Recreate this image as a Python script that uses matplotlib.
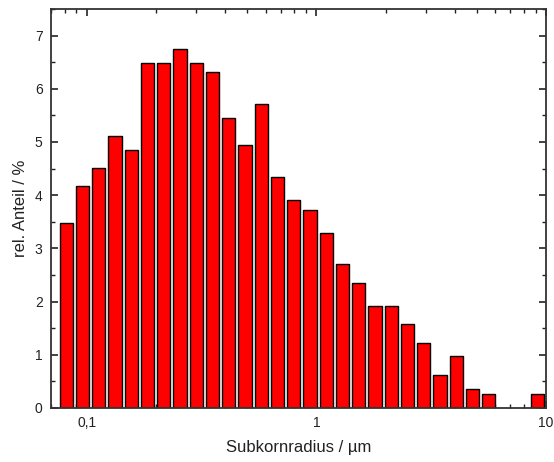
import numpy as np
import matplotlib
matplotlib.use("Agg")
import matplotlib.pyplot as plt
from matplotlib.ticker import LogLocator, FixedLocator, FixedFormatter, MultipleLocator, NullFormatter

plt.rcParams['font.family'] = ['Liberation Sans', 'DejaVu Sans']

# bin centres of the subgrain radius classes (µm), log-spaced
radius_um = [0.0813, 0.0957, 0.1126, 0.1326, 0.1560, 0.1836, 0.2161, 0.2543,
             0.2994, 0.3524, 0.4147, 0.4882, 0.5745, 0.6762, 0.7960, 0.9369,
             1.1026, 1.2978, 1.5276, 1.7977, 2.1159, 2.4906, 2.9309, 3.4498,
             4.0608, 4.7786, 5.6247, 6.6207, 7.7929, 9.1725]
# relative share per class (%)
share_pct = [3.47, 4.17, 4.51, 5.11, 4.85, 6.49, 6.49, 6.74, 6.49, 6.32,
             5.45, 4.94, 5.71, 4.34, 3.91, 3.73, 3.29, 2.70, 2.35, 1.91,
             1.91, 1.57, 1.22, 0.62, 0.97, 0.35, 0.27, 0.0, 0.0, 0.27]

xticks = [0.1, 1, 10]
xticklabels = ["0,1", "1", "10"]

fig = plt.figure(figsize=(5.54, 4.62), dpi=100)
ax = fig.add_axes([0.092, 0.117, 0.8936, 0.8635])

# bar width as a fraction of a decade, so bars look equal on the log axis
w_dec = 0.0576
c = np.array(radius_um)
left = c * 10 ** (-w_dec / 2)
right = c * 10 ** (w_dec / 2)
vals = np.array(share_pct)
mask = vals > 0
ax.bar(left[mask], vals[mask], width=(right - left)[mask], align='edge',
       color='#ff0000', edgecolor='black', linewidth=1.0, zorder=2)

ax.set_xscale('log')
ax.set_xlim(0.0697, 10)
ax.set_ylim(0, 7.5)

ax.xaxis.set_major_locator(FixedLocator(xticks))
ax.xaxis.set_major_formatter(FixedFormatter(xticklabels))
ax.xaxis.set_minor_locator(LogLocator(base=10, subs=np.arange(2, 10)))
ax.xaxis.set_minor_formatter(NullFormatter())
ax.yaxis.set_major_locator(MultipleLocator(1))
ax.yaxis.set_minor_locator(MultipleLocator(0.5))

ax.tick_params(which='both', direction='in', top=True, right=True,
               labelsize=10, colors='#222222', labelcolor='#222222')
ax.tick_params(which='major', length=5, width=1.2, pad=6)
ax.tick_params(which='minor', length=3, width=1.0)
ax.tick_params(axis='y', which='both', labelright=False)

for s in ax.spines.values():
    s.set_linewidth(1.3)
    s.set_color('#333333')

ax.set_xlabel("Subkornradius / µm", fontsize=12, color='#222222', labelpad=7)
ax.set_ylabel("rel. Anteil / %", fontsize=12, color='#222222', labelpad=5)

fig.savefig("out.png", dpi=100)
